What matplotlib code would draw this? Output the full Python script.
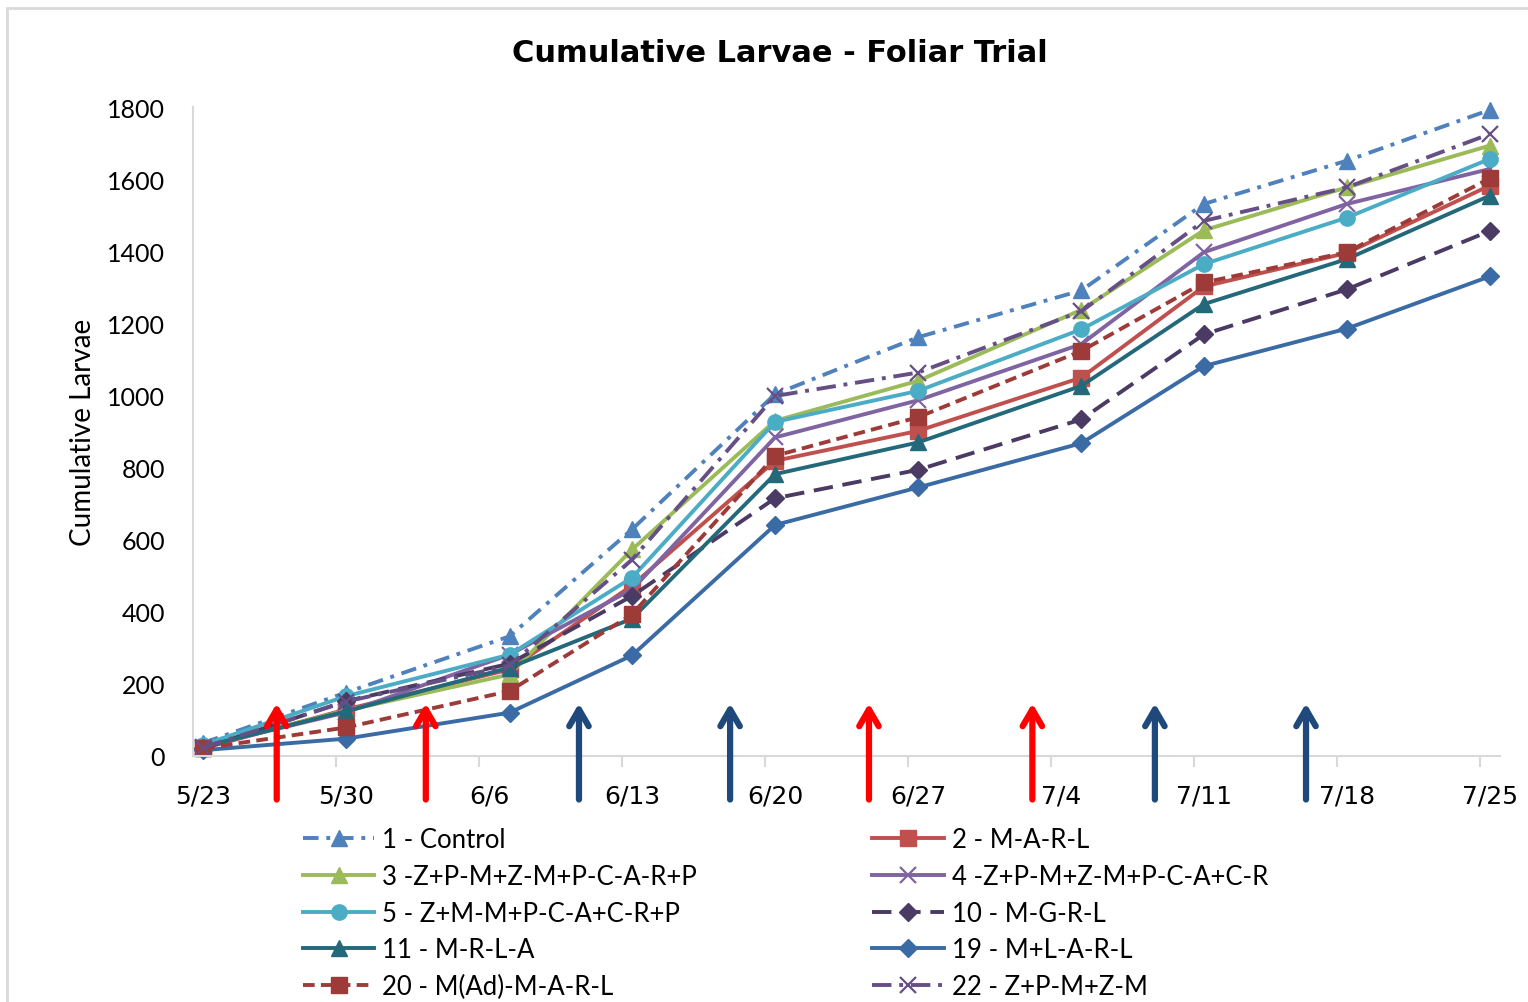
"""
Cumulative Larvae - Foliar Trial, redraw of the excel chart
"""
import matplotlib

matplotlib.use("Agg")
import matplotlib.pyplot as plt
from matplotlib.patches import Rectangle

plt.rcParams['font.family'] = ['Lato', 'DejaVu Sans']

# days counted from 5/23
days = [0, 7, 15, 21, 28, 35, 43, 49, 56, 63]
tick_days = [0, 7, 14, 21, 28, 35, 42, 49, 56, 63]
tick_labels = ['5/23', '5/30', '6/6', '6/13', '6/20', '6/27', '7/4', '7/11', '7/18', '7/25']

control = [35, 175, 331, 628, 1003, 1161, 1291, 1531, 1651, 1792]
t2 = [20, 128, 239, 472, 818, 901, 1049, 1302, 1395, 1582]
t3 = [25, 125, 225, 572, 929, 1040, 1237, 1458, 1577, 1693]
t4 = [25, 120, 280, 461, 883, 986, 1142, 1397, 1531, 1628]
t5 = [30, 165, 280, 494, 926, 1012, 1183, 1364, 1493, 1656]
t10 = [20, 151, 255, 443, 714, 793, 933, 1169, 1294, 1456]
t11 = [25, 123, 244, 380, 781, 869, 1026, 1253, 1378, 1554]
t19 = [15, 47, 119, 278, 640, 744, 867, 1081, 1185, 1330]
t20 = [20, 78, 179, 392, 832, 939, 1123, 1313, 1397, 1602]
t22 = [22, 150, 250, 544, 998, 1063, 1233, 1484, 1577, 1725]

# spray dates (day offsets), red and blue arrows
red_arrows = [3.6, 10.9, 32.6, 40.6]
blue_arrows = [18.4, 25.8, 46.6, 54.0]

series = [
    ('1 - Control', control, '#4F81BD', (0, (4, 2, 1, 2)), '^'),
    ('2 - M-A-R-L', t2, '#C0504D', '-', 's'),
    ('3 -Z+P-M+Z-M+P-C-A-R+P', t3, '#9BBB59', '-', '^'),
    ('4 -Z+P-M+Z-M+P-C-A+C-R', t4, '#8064A2', '-', 'x'),
    ('5 - Z+M-M+P-C-A+C-R+P', t5, '#4BACC6', '-', 'o'),
    ('10 - M-G-R-L', t10, '#4B3A63', (0, (5, 2.5)), 'D'),
    ('11 - M-R-L-A', t11, '#23697A', '-', '^'),
    ('19 - M+L-A-R-L', t19, '#3A6BA5', '-', 'D'),
    ('20 - M(Ad)-M-A-R-L', t20, '#9E3B38', (0, (3, 1.6)), 's'),
    ('22 - Z+P-M+Z-M', t22, '#654F85', (0, (5, 2, 1, 2)), 'x'),
]

fig = plt.figure(figsize=(15.28, 10.03), dpi=100)
ax = fig.add_axes([0.1263, 0.2457, 0.8554, 0.6466])

handles = {}
for name, vals, col, ls, mk in series:
    ms = 9 if mk == 'D' else 11
    mew = 1.6 if mk == 'x' else 1
    ln, = ax.plot(days, vals, color=col, linestyle=ls, linewidth=2.8, marker=mk,
                  markersize=ms, markeredgewidth=mew, markeredgecolor=col, label=name,
                  clip_on=False)
    handles[name] = ln

ax.set_xlim(-0.5, 63.5)
ax.set_ylim(0, 1800)
ax.set_yticks(range(0, 1801, 200))
ax.set_xticks(tick_days)
ax.set_xticklabels(tick_labels, family=['DejaVu Sans'])
ax.set_xticks([d - 0.5 for d in tick_days[1:]], minor=True)
ax.tick_params(axis='x', which='major', length=0, labelsize=18, pad=20)
ax.tick_params(axis='x', which='minor', length=8, color='#D9D9D9', width=1.5)
ax.tick_params(axis='y', length=0, labelsize=18, pad=20)
for s in ['top', 'right']:
    ax.spines[s].set_visible(False)
for s in ['left', 'bottom']:
    ax.spines[s].set_color('#D9D9D9')
    ax.spines[s].set_linewidth(1.5)

ax.set_ylabel('Cumulative Larvae', fontsize=20, labelpad=8)
fig.text(0.5105, 0.947, 'Cumulative Larvae - Foliar Trial', ha='center', va='center',
         fontsize=22, fontweight='bold', family=['DejaVu Sans'])

# arrows for the applications
for xs, col in [(red_arrows, '#FF0000'), (blue_arrows, '#1F497D')]:
    for x in xs:
        ax.annotate('', xy=(x, 145), xytext=(x, -122), annotation_clip=False,
                    arrowprops=dict(arrowstyle='->,head_length=0.6,head_width=0.35',
                                    color=col, lw=4.5, mutation_scale=20,
                                    shrinkA=0, shrinkB=0, capstyle='round'))

left_names = ['1 - Control', '3 -Z+P-M+Z-M+P-C-A-R+P', '5 - Z+M-M+P-C-A+C-R+P',
              '11 - M-R-L-A', '20 - M(Ad)-M-A-R-L']
right_names = ['2 - M-A-R-L', '4 -Z+P-M+Z-M+P-C-A+C-R', '10 - M-G-R-L',
               '19 - M+L-A-R-L', '22 - Z+P-M+Z-M']
for names, x0 in [(left_names, 0.198), (right_names, 0.571)]:
    fig.legend([handles[n] for n in names], names, loc='upper left',
               bbox_to_anchor=(x0, 0.174), frameon=False, fontsize=18.5,
               handlelength=2.8, handletextpad=0.3, labelspacing=0.45,
               borderaxespad=0, borderpad=0)

fig.patches.append(Rectangle((7 / 1528, -0.01), 1.02, 1 - 9 / 1003 + 0.01,
                             transform=fig.transFigure, fill=False,
                             edgecolor='#D9D9D9', linewidth=2))

plt.savefig('out.png', dpi=100)
